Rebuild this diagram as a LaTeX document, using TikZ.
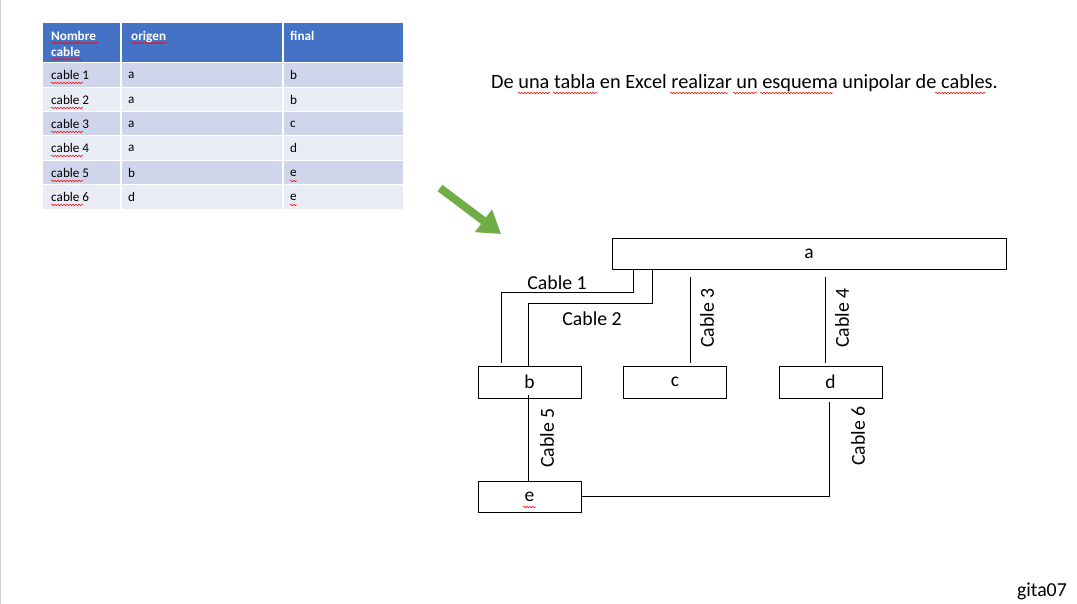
\documentclass[tikz,border=0pt]{standalone}
\usepackage{fontspec}
\setmainfont{Carlito}
\usetikzlibrary{arrows.meta,decorations.pathmorphing}
\definecolor{hdr}{HTML}{4472C4}
\definecolor{rowA}{HTML}{CFD5EA}
\definecolor{rowB}{HTML}{E9EBF5}
\definecolor{arrowgreen}{HTML}{70AD47}
\definecolor{edgegrey}{HTML}{D0D0D0}
\tikzset{
  box/.style={draw=black, line width=0.8pt, minimum width=103pt, minimum height=32pt, inner sep=0pt, font=\fontsize{19.5}{22}\selectfont},
  wire/.style={draw=black, line width=0.8pt},
  lbl/.style={inner sep=0pt, font=\fontsize{19.8}{22}\selectfont},
  cell/.style={inner sep=0pt, anchor=west, font=\fontsize{13.2}{15}\selectfont},
  hcell/.style={inner sep=0pt, anchor=north west, align=left, text=white, font=\bfseries\fontsize{13.2}{16.5}\selectfont},
  spell/.style={draw=red, line width=0.5pt, decorate, decoration={snake, segment length=3pt, amplitude=0.7pt}}
}
\begin{document}
\begin{tikzpicture}[x=1pt,y=-1pt]
\useasboundingbox (0,0) rectangle (1077,604);
\fill[white] (0,0) rectangle (1077,604);
\draw[edgegrey, line width=1.2pt] (0.6,0) -- (0.6,604);

% ---- table ----
\fill[hdr] (43,23) rectangle (403,62);
\foreach \t/\b/\c in {63/87/rowA, 88/111/rowB, 112/135/rowA, 136/160/rowB, 161/184/rowA, 185/209/rowB}{
  \fill[\c] (43,\t) rectangle (403,\b);
}
\draw[white, line width=2pt] (120.5,23) -- (120.5,209) (282.5,23) -- (282.5,209);
\node[hcell] (h1) at (51,31) {Nombre\\cable};
\node[hcell] (h2) at (131,31) {origen};
\node[hcell] (h3) at (290,31) {final};
\foreach \y/\n/\o/\f [count=\i] in {75/1/a/b, 100/2/a/b, 124/3/a/c, 148/4/a/d, 173/5/b/e, 197/6/d/e}{
  \node[cell] (r\i a) at (51,\y) {cable \n};
  \node[cell] (r\i b) at (128,\y) {\o};
  \node[cell] (r\i c) at (290,\y) {\f};
  \draw[spell] (51,\y+8) -- (83,\y+8);
}
\draw[spell] (51,43) -- (98,43);
\draw[spell] (51,59) -- (82,59);
\draw[spell] (131,43) -- (167,43);
\draw[spell] (290,181) -- (297,181);
\draw[spell] (290,205) -- (297,205);

% ---- heading ----
\node[lbl, anchor=west, font=\fontsize{20.3}{23}\selectfont] (title) at (491,83) {De una tabla en Excel realizar un esquema unipolar de cables.};
\foreach \xa/\xb in {518/550, 553/597, 670/728, 733/757, 760/833, 935/985}{
  \draw[spell] (\xa,93) -- (\xb,93);
}

% ---- green arrow ----
\coordinate (gs) at (440,188);
\coordinate (ge) at (501,234);
\draw[arrowgreen, line width=8pt, -{Triangle[length=22pt, width=27pt]}] (gs) -- (ge);

% ---- diagram ----
\node[box, minimum width=394pt, minimum height=31pt] (a) at (809,253.5) {a};
\node[box] (b) at (529.5,382) {b};
\node[box] (c) at (675,382) {c};
\node[box] (d) at (830.5,382) {d};
\node[box, minimum height=31pt] (e) at (529.5,496.5) {e};
\draw[spell] (523,507) -- (536,507);

% Cable 1
\draw[wire] ([xshift=22pt]a.south west) |- ([xshift=24pt,yshift=73pt]b.north west) -- ([xshift=24pt,yshift=3pt]b.north west);
\node[lbl] (l1) at (557,283) {Cable 1};
% Cable 2
\draw[wire] ([xshift=41pt]a.south west) |- ([xshift=51pt,yshift=62pt]b.north west) -- ([xshift=51pt]b.north west);
\node[lbl] (l2) at (592,319) {Cable 2};
% Cable 3
\draw[wire] ([xshift=15pt,yshift=89pt]c.north) -- ([xshift=15pt,yshift=3pt]c.north);
\node[lbl, rotate=90] (l3) at (707,318) {Cable 3};
% Cable 4
\draw[wire] ([xshift=-5.5pt,yshift=89pt]d.north) -- ([xshift=-5.5pt,yshift=3pt]d.north);
\node[lbl, rotate=90] (l4) at (842,318) {Cable 4};
% Cable 5
\draw[wire] ([xshift=-1.5pt,yshift=3pt]b.south) -- ([xshift=-1.5pt]e.north);
\node[lbl, rotate=90] (l5) at (547,438) {Cable 5};
% Cable 6
\draw[wire] ([xshift=-1.5pt,yshift=-4pt]d.south) |- (e.east);
\node[lbl, rotate=90] (l6) at (858,436) {Cable 6};

\node[lbl, anchor=east] (sig) at (1067,591) {gita07};
\end{tikzpicture}
\end{document}
